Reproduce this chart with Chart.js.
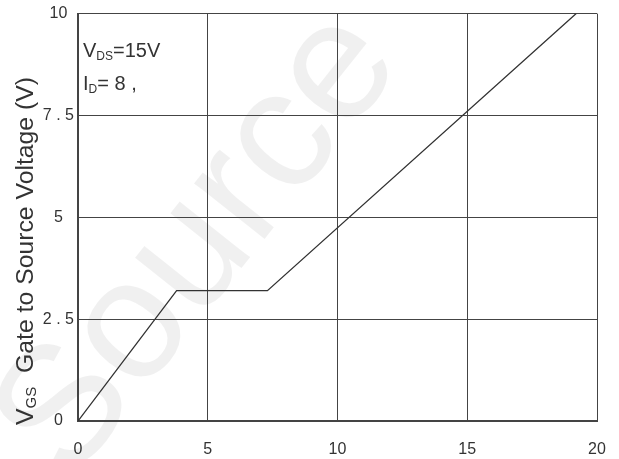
<!DOCTYPE html>
<html>
<head>
<meta charset="utf-8">
<script src="https://cdn.jsdelivr.net/npm/chart.js@4/dist/chart.umd.min.js"></script>
<style>
  html, body { margin: 0; padding: 0; background: #fff; }
  #wrap { width: 619px; height: 459px; }
</style>
</head>
<body>
<div id="wrap"><canvas id="gateChart" width="619" height="459"></canvas></div>
<script>
// gate charge curve
const chargeX = [0, 3.8, 7.3, 19.2];
const gateV = [0, 3.2, 3.2, 10];
const xTicks = [0, 5, 10, 15, 20];
const yTicks = [0, 2.5, 5, 7.5, 10];
const yTickLabels = ["0", "2 . 5", "5", "7 . 5", "10"];

const FONT = "'Liberation Sans', Arial, sans-serif";
const INK = "#333";

// draws text made of [text, isSubscript] parts, returns end x
function drawParts(ctx, parts, x, y, size, measureOnly) {
  parts.forEach(([txt, sub]) => {
    ctx.font = (sub ? Math.round(size * 0.6) : size) + "px " + FONT;
    if (!measureOnly) ctx.fillText(txt, x, sub ? y + size * 0.15 : y);
    x += ctx.measureText(txt).width;
  });
  return x;
}

const titleParts = [["V", false], ["GS", true], ["  Gate to Source Voltage (V)", false]];

const textPlugin = {
  id: "textPlugin",
  beforeDraw(chart) {
    const ctx = chart.ctx;
    ctx.save();
    ctx.fillStyle = "#fff";
    ctx.fillRect(0, 0, chart.width, chart.height);
    // faint watermark behind the plot
    ctx.translate(200, 245);
    ctx.rotate(-0.9);
    ctx.fillStyle = "rgba(0,0,0,0.06)";
    ctx.font = "170px " + FONT;
    ctx.textAlign = "center";
    ctx.textBaseline = "middle";
    ctx.fillText("Source", 0, 0);
    ctx.restore();
  },
  afterDraw(chart) {
    const ctx = chart.ctx;
    const area = chart.chartArea;
    ctx.save();
    ctx.fillStyle = INK;
    ctx.textBaseline = "alphabetic";
    drawParts(ctx, [["V", false], ["DS", true], ["=15V", false]], area.left + 5, area.top + 43, 20);
    drawParts(ctx, [["I", false], ["D", true], ["= 8 ,", false]], area.left + 5, area.top + 76, 20);

    // rotated y axis title with subscript, stretched along its length like the original
    const w = drawParts(ctx, titleParts, 0, 0, 23, true);
    ctx.translate(33, 425);
    ctx.rotate(-Math.PI / 2);
    ctx.scale(348 / w, 1);
    drawParts(ctx, titleParts, 0, 0, 23);
    ctx.restore();
  }
};

new Chart(document.getElementById("gateChart"), {
  type: "scatter",
  data: {
    datasets: [{
      data: chargeX.map((x, i) => ({ x: x, y: gateV[i] })),
      showLine: true,
      borderColor: "#333",
      borderWidth: 1.3,
      pointRadius: 0,
      fill: false
    }]
  },
  options: {
    responsive: false,
    animation: false,
    layout: { padding: { top: 12, right: 22, left: 0, bottom: 0 } },
    plugins: { legend: { display: false }, tooltip: { enabled: false } },
    scales: {
      x: {
        type: "linear",
        min: 0,
        max: 20,
        afterBuildTicks: (s) => { s.ticks = xTicks.map((v) => ({ value: v })); },
        afterFit: (s) => { s.height = 38; s.paddingLeft = 0; s.paddingRight = 0; },
        ticks: { color: INK, font: { family: FONT, size: 16 }, padding: 19, maxRotation: 0 },
        grid: { color: "#444", lineWidth: 1, drawTicks: false },
        border: { color: "#444", width: 2 }
      },
      y: {
        type: "linear",
        min: 0,
        max: 10,
        afterBuildTicks: (s) => { s.ticks = yTicks.map((v) => ({ value: v })); },
        afterFit: (s) => { s.width = 78; },
        ticks: {
          color: INK,
          font: { family: FONT, size: 16 },
          padding: 4,
          crossAlign: "center",
          callback: (v, i) => yTickLabels[i]
        },
        grid: { color: "#444", lineWidth: 1, drawTicks: false },
        border: { color: "#444", width: 2 }
      }
    }
  },
  plugins: [textPlugin]
});
</script>
</body>
</html>
